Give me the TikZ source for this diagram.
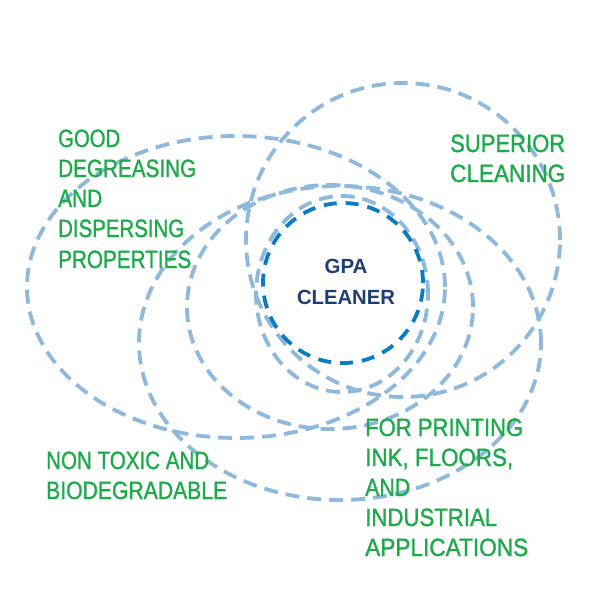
\documentclass[tikz,border=0pt]{standalone}
\usepackage{fontspec}
\setmainfont{Liberation Sans}
\newfontfamily\lblfont[FakeBold=1.2]{Liberation Sans}
\usepackage{graphicx}
\definecolor{ringlight}{RGB}{143,185,220}
\definecolor{ringdark}{RGB}{10,125,194}
\definecolor{lblgreen}{RGB}{28,170,75}
\definecolor{navy}{RGB}{31,63,115}
\newcommand\fitw[2]{\resizebox{#1}{\height}{#2}}
\begin{document}
\begin{tikzpicture}[x=1pt,y=-1pt,
  ring/.style={draw=ringlight, line width=3.8pt, dash pattern=on 14pt off 8pt},
  core/.style={draw=ringdark, line width=3.8pt, dash pattern=on 13pt off 9pt},
  lbl/.style={inner sep=0pt, anchor=base west, text=lblgreen, font=\lblfont\fontsize{25}{30}\selectfont},
  ctr/.style={inner sep=0pt, anchor=base, text=navy, font=\bfseries\fontsize{20.5}{24}\selectfont}]
\useasboundingbox (0,0) rectangle (600,600);
\fill[white] (0,0) rectangle (600,600);
% light dashed rings
\draw[ring] (236,287) ellipse [x radius=209pt, y radius=151pt];
\draw[ring] (403,240) circle [radius=157pt];
\draw[ring] (340,343) ellipse [x radius=201pt, y radius=157pt];
\draw[ring] (330,307) ellipse [x radius=143pt, y radius=122pt];
\draw[ring] (342,294) ellipse [x radius=86pt, y radius=98pt];
% core circle
\draw[core] (343,283) circle [radius=80pt];
% centre text
\node[ctr] (gpa) at (346,273) {GPA};
\node[ctr] (cleaner) at (346,304) {\fitw{98pt}{CLEANER}};
% labels
\node[lbl] (g1) at (58,147) {\fitw{62pt}{GOOD}};
\node[lbl] (g2) at (58,177) {\fitw{138pt}{DEGREASING}};
\node[lbl] (g3) at (58,207) {\fitw{44pt}{AND}};
\node[lbl] (g4) at (58,237) {\fitw{126pt}{DISPERSING}};
\node[lbl] (g5) at (58,268) {\fitw{133pt}{PROPERTIES}};
\node[lbl] (s1) at (450,152) {\fitw{115pt}{SUPERIOR}};
\node[lbl] (s2) at (450,182) {\fitw{115pt}{CLEANING}};
\node[lbl] (n1) at (46,469) {\fitw{163pt}{NON TOXIC AND}};
\node[lbl] (n2) at (46,499) {\fitw{181pt}{BIODEGRADABLE}};
\node[lbl] (f1) at (365,436) {\fitw{158pt}{FOR PRINTING}};
\node[lbl] (f2) at (365,466) {\fitw{148pt}{INK, FLOORS,}};
\node[lbl] (f3) at (365,496) {\fitw{45pt}{AND}};
\node[lbl] (f4) at (365,526) {\fitw{132pt}{INDUSTRIAL}};
\node[lbl] (f5) at (365,556) {\fitw{163pt}{APPLICATIONS}};
\end{tikzpicture}
\end{document}
